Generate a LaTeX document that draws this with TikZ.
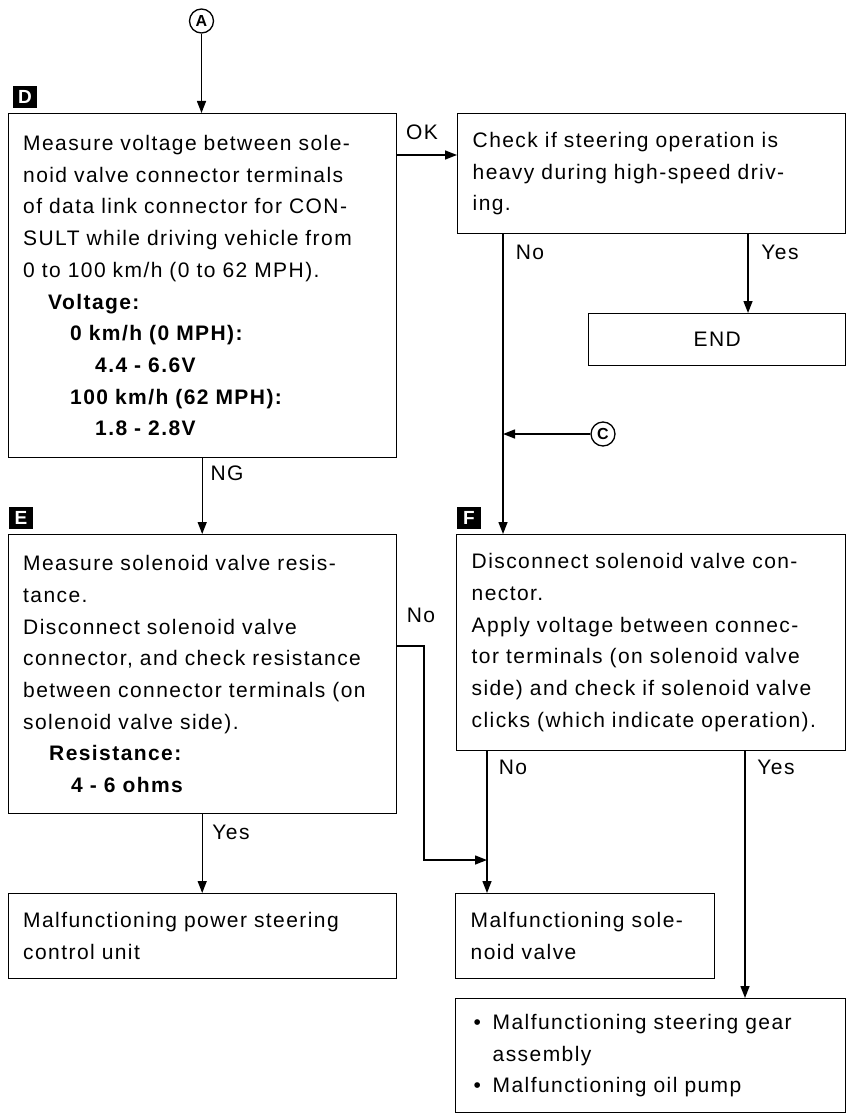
\documentclass[tikz,border=0pt]{standalone}
\usepackage{fontspec}
\setmainfont[LetterSpace=6.8]{Liberation Sans}
\usetikzlibrary{arrows.meta}
\newcommand{\fsz}{\fontsize{21}{31.7}\selectfont}
\begin{document}
\begin{tikzpicture}[x=1pt,y=-1pt,line width=1.4pt,
  box/.style={draw,rectangle,anchor=north west,inner xsep=15pt,inner ysep=0pt,align=left,font=\fsz},
  lbl/.style={font=\fsz,inner sep=0pt},
  tag/.style={fill=black,text=white,font=\bfseries\fontsize{19}{19}\selectfont,minimum width=24pt,minimum height=22pt,inner sep=0pt},
  circ/.style={draw,circle,line width=1.3pt,minimum size=24pt,inner sep=0pt,font=\bfseries\fontsize{16}{16}\selectfont},
  arr/.style={-{Triangle[length=12pt,width=9pt]}}]
\useasboundingbox (0,0) rectangle (850,1115);
\fill[white] (0,0) rectangle (850,1115);

% boxes
\node[box,minimum width=388pt,text width=358pt,minimum height=344pt] (D) at (7.5,113)
 {Measure voltage between sole-\\ noid valve connector terminals\\ of data link connector for CON-\\ SULT while driving vehicle from\\ 0 to 100 km/h (0 to 62 MPH).\\
 \hspace*{25pt}\textbf{Voltage:}\\ \hspace*{47pt}\textbf{0 km/h (0 MPH):}\\ \hspace*{72pt}\textbf{4.4 - 6.6V}\\ \hspace*{47pt}\textbf{100 km/h (62 MPH):}\\ \hspace*{72pt}\textbf{1.8 - 2.8V}};
\node[box,minimum width=388pt,text width=358pt,minimum height=120pt] (Chk) at (457,113)
 {Check if steering operation is\\ heavy during high-speed driv-\\ ing.};
\node[box,align=center,minimum width=257pt,text width=227pt,minimum height=52pt] (END) at (588,313) {END};
\node[box,minimum width=388pt,text width=358pt,minimum height=279pt] (E) at (7.5,534)
 {Measure solenoid valve resis-\\ tance.\\ Disconnect solenoid valve\\ connector, and check resistance\\ between connector terminals (on\\ solenoid valve side).\\
 \hspace*{26pt}\textbf{Resistance:}\\ \hspace*{48pt}\textbf{4 - 6 ohms}};
\node[box,minimum width=389pt,text width=359pt,minimum height=216pt] (F) at (456,534)
 {Disconnect solenoid valve con-\\ nector.\\ Apply voltage between connec-\\ tor terminals (on solenoid valve\\ side) and check if solenoid valve\\ clicks (which indicate operation).};
\node[box,minimum width=388pt,text width=358pt,minimum height=85pt] (P) at (7.5,893)
 {Malfunctioning power steering\\ control unit};
\node[box,minimum width=259pt,text width=229pt,minimum height=85pt] (S) at (455,893)
 {Malfunctioning sole-\\ noid valve};
\node[box,minimum width=390pt,text width=360pt,minimum height=114pt] (B) at (455,998)
 {\makebox[22pt][l]{\hspace{3pt}•}Malfunctioning steering gear\\ \hspace*{22pt}assembly\\ \makebox[22pt][l]{\hspace{3pt}•}Malfunctioning oil pump};

% tags
\node[tag] (tD) at (25,97) {D};
\node[tag] (tE) at (21,518) {E};
\node[tag] (tF) at (469,518) {F};

% circled connectors
\node[circ] (A) at (201.5,21) {A};
\node[circ] (C) at (603,434) {C};

% helper coordinates
\coordinate (okS) at (395.5,155);
\coordinate (noS) at (503,233);
\coordinate (yesS) at (748,233);
\coordinate (eno) at (424,646);
\coordinate (enoB) at (424,860);
\coordinate (fno) at (487,750);
\coordinate (fyes) at (745,750);

% connectors
\draw[arr] (A) -- (A |- D.north);
\draw[arr] (D.east |- okS) -- (okS -| Chk.west);
\draw[arr] (Chk.south -| noS) -- (noS |- F.north);
\draw[arr] (Chk.south -| yesS) -- (yesS |- END.north);
\draw[arr] (C) -- (C -| noS);
\draw[arr] (D.south) -- (E.north);
\draw[arr] (E.south) -- (P.north);
\draw[arr] (E.east |- eno) -- (eno) -- (enoB) -- (enoB -| fno);
\draw[arr] (F.south -| fno) -- (fno |- S.north);
\draw[arr] (F.south -| fyes) -- (fyes |- B.north);

% labels
\node[lbl] (lOK) at (422,132) {OK};
\node[lbl] (lNo1) at (530,252) {No};
\node[lbl] (lYes1) at (780,252) {Yes};
\node[lbl] (lNG) at (227,473) {NG};
\node[lbl] (lNo2) at (421,615) {No};
\node[lbl] (lNo3) at (513,767) {No};
\node[lbl] (lYes2) at (776,767) {Yes};
\node[lbl] (lYes3) at (231,832) {Yes};
\end{tikzpicture}
\end{document}
